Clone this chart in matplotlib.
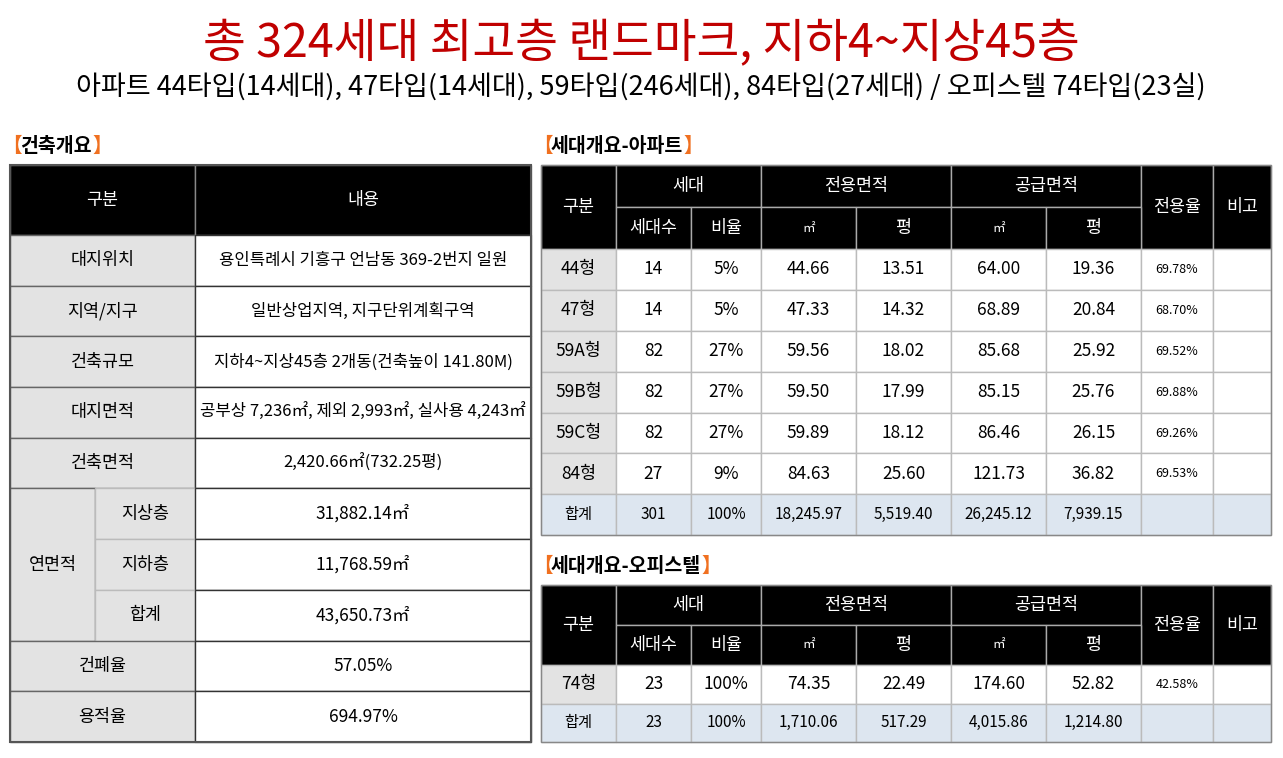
import matplotlib
matplotlib.use("Agg")
import matplotlib.pyplot as plt
from matplotlib.patches import Rectangle

plt.rcParams['font.family'] = ['Noto Sans CJK KR', 'DejaVu Sans']

title = "총 324세대 최고층 랜드마크, 지하4~지상45층"
subtitle = "아파트 44타입(14세대), 47타입(14세대), 59타입(246세대), 84타입(27세대) / 오피스텔 74타입(23실)"

bld_labels = ["대지위치", "지역/지구", "건축규모", "대지면적", "건축면적"]
bld_values = ["용인특례시 기흥구 언남동 369-2번지 일원", "일반상업지역, 지구단위계획구역",
              "지하4~지상45층 2개동(건축높이 141.80M)", "공부상 7,236㎡, 제외 2,993㎡, 실사용 4,243㎡",
              "2,420.66㎡(732.25평)"]
floor_sub = ["지상층", "지하층", "합계"]
floor_vals = ["31,882.14㎡", "11,768.59㎡", "43,650.73㎡"]
ratio_labels = ["건폐율", "용적율"]
ratio_vals = ["57.05%", "694.97%"]

apt_types = ["44형", "47형", "59A형", "59B형", "59C형", "84형", "합계"]
apt_cnt = ["14", "14", "82", "82", "82", "27", "301"]
apt_pct = ["5%", "5%", "27%", "27%", "27%", "9%", "100%"]
apt_ex_m2 = ["44.66", "47.33", "59.56", "59.50", "59.89", "84.63", "18,245.97"]
apt_ex_py = ["13.51", "14.32", "18.02", "17.99", "18.12", "25.60", "5,519.40"]
apt_sup_m2 = ["64.00", "68.89", "85.68", "85.15", "86.46", "121.73", "26,245.12"]
apt_sup_py = ["19.36", "20.84", "25.92", "25.76", "26.15", "36.82", "7,939.15"]
apt_rate = ["69.78%", "68.70%", "69.52%", "69.88%", "69.26%", "69.53%", ""]

off_types = ["74형", "합계"]
off_cnt = ["23", "23"]
off_pct = ["100%", "100%"]
off_ex_m2 = ["74.35", "1,710.06"]
off_ex_py = ["22.49", "517.29"]
off_sup_m2 = ["174.60", "4,015.86"]
off_sup_py = ["52.82", "1,214.80"]
off_rate = ["42.58%", ""]

fig = plt.figure(figsize=(12.83, 7.58), dpi=100)
ax = fig.add_axes([0, 0, 1, 1])
ax.set_xlim(0, 1283); ax.set_ylim(758, 0); ax.axis('off')

GRAY = "#e3e3e3"; BLUE = "#dde6f0"

def cell(x0, y0, x1, y1, text="", fc="white", tc="black", fs=12.5, ec="#999999", lw=1):
    ax.add_patch(Rectangle((x0, y0), x1 - x0, y1 - y0, facecolor=fc, edgecolor=ec, lw=lw))
    if text:
        ax.text((x0 + x1) / 2, (y0 + y1) / 2, text, ha='center', va='center', fontsize=fs, color=tc)

ax.text(641, 44, title, ha='center', va='center', fontsize=33.5, color="#c00000", fontweight='medium')
ax.text(641, 88, subtitle, ha='center', va='center', fontsize=19.5, color="black")

def section(x, y, label):
    ax.text(x - 8, y, "【", ha='left', va='center', fontsize=14, color="#f07020", fontweight='bold')
    t = ax.text(x + 10, y, label, ha='left', va='center', fontsize=14, color="black", fontweight='bold')
    fig.canvas.draw()
    bb = t.get_window_extent()
    xe = ax.transData.inverted().transform((bb.x1, bb.y0))[0]
    ax.text(xe + 0.5, y, "】", ha='left', va='center', fontsize=14, color="#f07020", fontweight='bold')

section(10, 146, "건축개요")
section(541, 146, "세대개요-아파트")
section(541, 566, "세대개요-오피스텔")

# left table
L0, LM, LS, L1 = 10, 195, 95, 531
cell(L0, 165, LM, 235, "구분", fc="black", tc="white", ec="#888888")
cell(LM, 165, L1, 235, "내용", fc="black", tc="white", ec="#888888")
rh = 50.7
y = 235
for lab, val in zip(bld_labels, bld_values):
    cell(L0, y, LM, y + rh, lab, fc=GRAY, ec="#666666")
    cell(LM, y, L1, y + rh, val, ec="#333333", fs=12)
    y += rh
cell(L0, y, LS, y + 3 * rh, "연면적", fc=GRAY, ec="#666666")
for lab, val in zip(floor_sub, floor_vals):
    cell(LS, y, LM, y + rh, lab, fc=GRAY, ec="#bbbbbb")
    cell(LM, y, L1, y + rh, val, ec="#333333")
    y += rh
for lab, val in zip(ratio_labels, ratio_vals):
    cell(L0, y, LM, y + rh, lab, fc=GRAY, ec="#666666")
    cell(LM, y, L1, y + rh, val, ec="#333333")
    y += rh
ax.add_patch(Rectangle((L0, 165), L1 - L0, y - 165, fill=False, edgecolor="#555555", lw=1.5))

cols = [541, 616, 691, 761, 856, 951, 1046, 1141, 1213, 1271]

def unit_table(ytop, h1, rowh, types, cnt, pct, exm, expy, sum2, supy, rate):
    h2 = ytop + h1; h3 = h2 + h1
    ec = "#aaaaaa"
    cell(cols[0], ytop, cols[1], h3, "구분", fc="black", tc="white", ec=ec)
    cell(cols[1], ytop, cols[3], h2, "세대", fc="black", tc="white", ec=ec)
    cell(cols[3], ytop, cols[5], h2, "전용면적", fc="black", tc="white", ec=ec)
    cell(cols[5], ytop, cols[7], h2, "공급면적", fc="black", tc="white", ec=ec)
    cell(cols[7], ytop, cols[8], h3, "전용율", fc="black", tc="white", ec=ec)
    cell(cols[8], ytop, cols[9], h3, "비고", fc="black", tc="white", ec=ec)
    for i, s in enumerate(["세대수", "비율", "㎡", "평", "㎡", "평"]):
        cell(cols[1 + i], h2, cols[2 + i], h3, s, fc="black", tc="white", ec=ec,
             fs=9 if s == "㎡" else 12.5)
    y = h3
    n = len(types)
    for r in range(n):
        total = r == n - 1
        vals = [types[r], cnt[r], pct[r], exm[r], expy[r], sum2[r], supy[r], rate[r], ""]
        for c in range(9):
            fc = BLUE if total else (GRAY if c == 0 else "white")
            fs = 9 if (c == 7 and not total) else (11 if total else 12.5)
            cell(cols[c], y, cols[c + 1], y + rowh, vals[c], fc=fc, ec="#bbbbbb", fs=fs)
        y += rowh
    ax.add_patch(Rectangle((cols[0], ytop), cols[-1] - cols[0], y - ytop, fill=False, edgecolor="#888888", lw=1))

unit_table(165, 42, 40.9, apt_types, apt_cnt, apt_pct, apt_ex_m2, apt_ex_py, apt_sup_m2, apt_sup_py, apt_rate)
unit_table(585, 40, 38.5, off_types, off_cnt, off_pct, off_ex_m2, off_ex_py, off_sup_m2, off_sup_py, off_rate)

fig.savefig("out.png", dpi=100)
